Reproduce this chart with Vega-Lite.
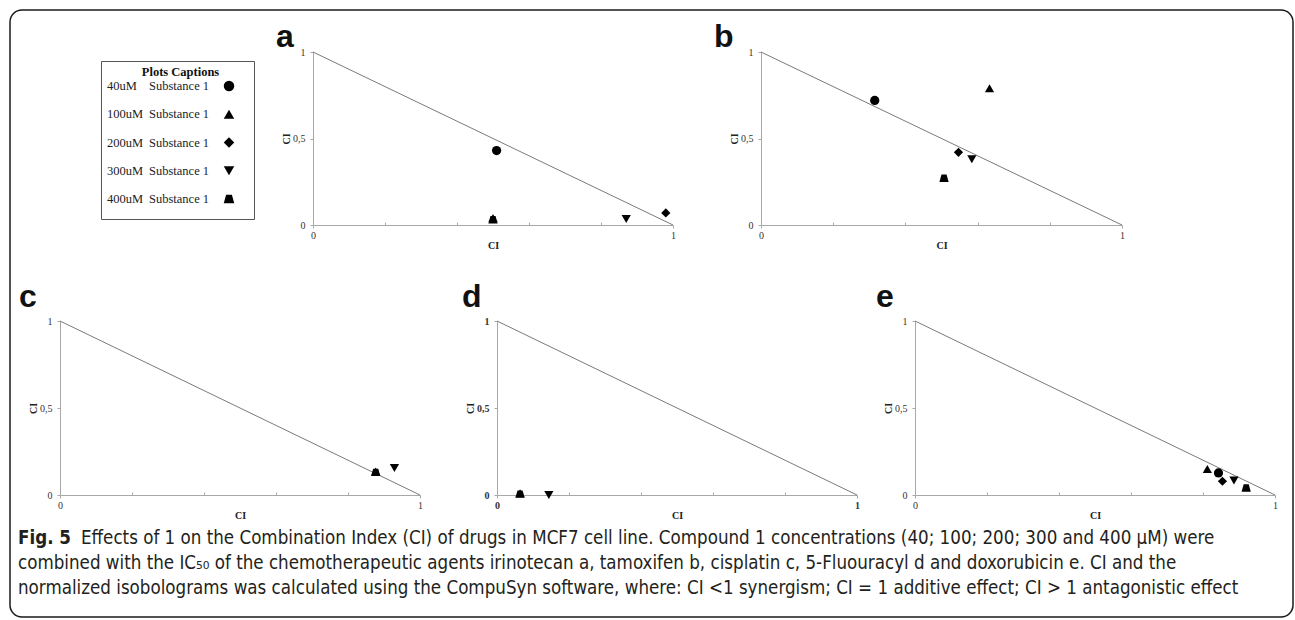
{
  "$schema": "https://vega.github.io/schema/vega-lite/v6.json",
  "background": "white",
  "padding": {"left": 9, "top": 9, "right": 2, "bottom": 2},
  "config": {
    "view": {"stroke": null},
    "axis": {"grid": false, "domainColor": "#a8a8a8", "tickColor": "#a8a8a8", "labelFont": "Liberation Serif", "labelFontSize": 10, "labelColor": "#333333", "titleFont": "Liberation Serif", "titleFontSize": 10, "titleFontWeight": "bold", "titleColor": "#222222"},
    "title": {"font": "Liberation Sans", "fontWeight": "bold", "fontSize": 32, "color": "#111111", "anchor": "start", "frame": "group", "dx": -37, "offset": -7, "baseline": "alphabetic"}
  },
  "datasets": {
    "diag": [{"cx": 0, "cy": 1}, {"cx": 1, "cy": 0}],
    "pts": [
      {"panel": "a", "conc": "40uM", "cx": 0.51, "cy": 0.43},
      {"panel": "a", "conc": "100uM", "cx": 0.50, "cy": 0.04},
      {"panel": "a", "conc": "400uM", "cx": 0.50, "cy": 0.03},
      {"panel": "a", "conc": "300uM", "cx": 0.87, "cy": 0.035},
      {"panel": "a", "conc": "200uM", "cx": 0.98, "cy": 0.07},
      {"panel": "b", "conc": "40uM", "cx": 0.315, "cy": 0.72},
      {"panel": "b", "conc": "100uM", "cx": 0.633, "cy": 0.79},
      {"panel": "b", "conc": "200uM", "cx": 0.547, "cy": 0.42},
      {"panel": "b", "conc": "300uM", "cx": 0.584, "cy": 0.38},
      {"panel": "b", "conc": "400uM", "cx": 0.507, "cy": 0.27},
      {"panel": "c", "conc": "100uM", "cx": 0.877, "cy": 0.135},
      {"panel": "c", "conc": "400uM", "cx": 0.877, "cy": 0.13},
      {"panel": "c", "conc": "300uM", "cx": 0.929, "cy": 0.155},
      {"panel": "d", "conc": "100uM", "cx": 0.064, "cy": 0.01},
      {"panel": "d", "conc": "400uM", "cx": 0.064, "cy": 0.005},
      {"panel": "d", "conc": "300uM", "cx": 0.144, "cy": 0.0},
      {"panel": "e", "conc": "100uM", "cx": 0.812, "cy": 0.15},
      {"panel": "e", "conc": "40uM", "cx": 0.843, "cy": 0.127},
      {"panel": "e", "conc": "200uM", "cx": 0.854, "cy": 0.079},
      {"panel": "e", "conc": "300uM", "cx": 0.886, "cy": 0.083},
      {"panel": "e", "conc": "400uM", "cx": 0.92, "cy": 0.04}
    ],
    "leg": [
      {"conc": "40uM", "sub": "Substance  1"},
      {"conc": "100uM", "sub": "Substance  1"},
      {"conc": "200uM", "sub": "Substance  1"},
      {"conc": "300uM", "sub": "Substance  1"},
      {"conc": "400uM", "sub": "Substance  1"}
    ],
    "capBold": [{"line": 1, "text": "Fig. 5"}],
    "capFirst": [{"line": 1, "text": "Effects of 1 on the Combination Index (CI) of drugs in MCF7 cell line. Compound 1 concentrations (40; 100; 200; 300 and 400 μM) were"}],
    "capRest": [
      {"line": 2, "text": "combined with the IC₅₀ of the chemotherapeutic agents irinotecan a, tamoxifen b, cisplatin c, 5-Fluouracyl d and doxorubicin e. CI and the"},
      {"line": 3, "text": "normalized isobolograms was calculated using the CompuSyn software, where: CI <1 synergism; CI = 1 additive effect; CI > 1 antagonistic effect"}
    ]
  },
  "bounds": "flush",
  "spacing": 0,
  "vconcat": [
    {
      "bounds": "flush",
      "spacing": 0,
      "vconcat": [
        {"data": {"values": [{"k": 1}]}, "mark": {"type": "point", "opacity": 0, "size": 0}, "width": 1283, "height": 607, "view": {"stroke": "#1a1a1a", "strokeWidth": 1.5, "cornerRadius": 12}}
      ]
    },
    {"data": {"values": [{"k": 1}]}, "mark": {"type": "point", "opacity": 0, "size": 0}, "width": 1, "height": 42},
    {
      "bounds": "flush",
      "spacing": 0,
      "hconcat": [
        {"data": {"values": [{"k": 1}]}, "mark": {"type": "point", "opacity": 0, "size": 0}, "width": 91, "height": 1},
        {
          "bounds": "flush",
          "spacing": 0,
          "vconcat": [
            {"data": {"values": [{"k": 1}]}, "mark": {"type": "point", "opacity": 0, "size": 0}, "width": 1, "height": 9},
            {
              "width": 153, "height": 158,
              "view": {"stroke": "#555555", "strokeWidth": 1},
              "title": {"text": "Plots Captions", "font": "Liberation Serif", "fontSize": 12.5, "fontWeight": "bold", "anchor": "middle", "dx": 3, "offset": -27.5, "baseline": "alphabetic", "color": "#111111"},
              "data": {"name": "leg"},
              "encoding": {
                "y": {"field": "conc", "type": "nominal", "sort": ["40uM", "100uM", "200uM", "300uM", "400uM"], "scale": {"type": "point", "range": [25, 138], "padding": 0}, "axis": null}
              },
              "layer": [
                {"mark": {"type": "text", "align": "left", "baseline": "middle", "font": "Liberation Serif", "fontSize": 12.5, "color": "#222222"}, "encoding": {"x": {"value": 6}, "text": {"field": "conc"}}},
                {"mark": {"type": "text", "align": "left", "baseline": "middle", "font": "Liberation Serif", "fontSize": 12.5, "color": "#222222"}, "encoding": {"x": {"value": 48}, "text": {"field": "sub"}}},
                {"mark": {"type": "point", "filled": true, "opacity": 1, "color": "#000000", "size": 110}, "encoding": {"x": {"value": 128}, "shape": {"field": "conc", "type": "nominal", "legend": null, "scale": {"domain": ["40uM", "100uM", "200uM", "300uM", "400uM"], "range": ["circle", "triangle-up", "diamond", "triangle-down", "M-1,0.8L1,0.8L0.55,-0.8L-0.55,-0.8Z"]}}}}
              ]
            }
          ]
        },
        {"data": {"values": [{"k": 1}]}, "mark": {"type": "point", "opacity": 0, "size": 0}, "width": 212, "height": 1},
        {
          "title": {"text": "a"},
          "width": 360, "height": 173,
          "layer": [
            {"data": {"name": "diag"}, "mark": {"type": "line", "color": "#7a7a7a", "strokeWidth": 1}, "encoding": {"x": {"field": "cx", "type": "quantitative", "scale": {"domain": [0, 1], "nice": false}, "axis": {"title": "CI", "values": [0, 0.1, 0.2, 0.3, 0.4, 0.5, 0.6, 0.7, 0.8, 0.9, 1], "labelExpr": "datum.value == 0 ? '0' : datum.value == 0.5 ? '0,5' : datum.value == 1 ? '1' : ''", "tickSize": {"condition": {"test": "datum.value == 0 || datum.value == 1", "value": 3}, "value": -3}, "labelPadding": 2, "titlePadding": 0, "labelFlush": false}}, "y": {"field": "cy", "type": "quantitative", "scale": {"domain": [0, 1], "nice": false}, "axis": {"title": "CI", "values": [0, 0.5, 1], "labelExpr": "datum.value == 0 ? '0' : datum.value == 0.5 ? '0,5' : '1'", "tickSize": 3, "labelPadding": 5, "titlePadding": 1}}}},
            {"data": {"name": "pts"}, "transform": [{"filter": "datum.panel == 'a'"}], "mark": {"type": "point", "filled": true, "opacity": 1, "color": "#000000", "size": 85}, "encoding": {"x": {"field": "cx", "type": "quantitative"}, "y": {"field": "cy", "type": "quantitative"}, "shape": {"field": "conc", "type": "nominal", "legend": null, "scale": {"domain": ["40uM", "100uM", "200uM", "300uM", "400uM"], "range": ["circle", "triangle-up", "diamond", "triangle-down", "M-1,0.8L1,0.8L0.55,-0.8L-0.55,-0.8Z"]}}}}
          ]
        },
        {"data": {"values": [{"k": 1}]}, "mark": {"type": "point", "opacity": 0, "size": 0}, "width": 88, "height": 1},
        {
          "title": {"text": "b", "dx": -47},
          "width": 361, "height": 173,
          "layer": [
            {"data": {"name": "diag"}, "mark": {"type": "line", "color": "#7a7a7a", "strokeWidth": 1}, "encoding": {"x": {"field": "cx", "type": "quantitative", "scale": {"domain": [0, 1], "nice": false}, "axis": {"title": "CI", "values": [0, 0.1, 0.2, 0.3, 0.4, 0.5, 0.6, 0.7, 0.8, 0.9, 1], "labelExpr": "datum.value == 0 ? '0' : datum.value == 0.5 ? '0,5' : datum.value == 1 ? '1' : ''", "tickSize": {"condition": {"test": "datum.value == 0 || datum.value == 1", "value": 3}, "value": -3}, "labelPadding": 2, "titlePadding": 0, "labelFlush": false}}, "y": {"field": "cy", "type": "quantitative", "scale": {"domain": [0, 1], "nice": false}, "axis": {"title": "CI", "values": [0, 0.5, 1], "labelExpr": "datum.value == 0 ? '0' : datum.value == 0.5 ? '0,5' : '1'", "tickSize": 3, "labelPadding": 5, "titlePadding": 1}}}},
            {"data": {"name": "pts"}, "transform": [{"filter": "datum.panel == 'b'"}], "mark": {"type": "point", "filled": true, "opacity": 1, "color": "#000000", "size": 85}, "encoding": {"x": {"field": "cx", "type": "quantitative"}, "y": {"field": "cy", "type": "quantitative"}, "shape": {"field": "conc", "type": "nominal", "legend": null, "scale": {"domain": ["40uM", "100uM", "200uM", "300uM", "400uM"], "range": ["circle", "triangle-up", "diamond", "triangle-down", "M-1,0.8L1,0.8L0.55,-0.8L-0.55,-0.8Z"]}}}}
          ]
        }
      ]
    },
    {"data": {"values": [{"k": 1}]}, "mark": {"type": "point", "opacity": 0, "size": 0}, "width": 1, "height": 269},
    {
      "bounds": "flush",
      "spacing": 0,
      "hconcat": [
        {"data": {"values": [{"k": 1}]}, "mark": {"type": "point", "opacity": 0, "size": 0}, "width": 50, "height": 1},
        {
          "title": {"text": "c", "dx": -41, "offset": 2},
          "width": 360, "height": 174,
          "layer": [
            {"data": {"name": "diag"}, "mark": {"type": "line", "color": "#7a7a7a", "strokeWidth": 1}, "encoding": {"x": {"field": "cx", "type": "quantitative", "scale": {"domain": [0, 1], "nice": false}, "axis": {"title": "CI", "values": [0, 0.1, 0.2, 0.3, 0.4, 0.5, 0.6, 0.7, 0.8, 0.9, 1], "labelExpr": "datum.value == 0 ? '0' : datum.value == 0.5 ? '0,5' : datum.value == 1 ? '1' : ''", "tickSize": {"condition": {"test": "datum.value == 0 || datum.value == 1", "value": 3}, "value": -3}, "labelPadding": 2, "titlePadding": 0, "labelFlush": false}}, "y": {"field": "cy", "type": "quantitative", "scale": {"domain": [0, 1], "nice": false}, "axis": {"title": "CI", "values": [0, 0.5, 1], "labelExpr": "datum.value == 0 ? '0' : datum.value == 0.5 ? '0,5' : '1'", "tickSize": 3, "labelPadding": 5, "titlePadding": 1}}}},
            {"data": {"name": "pts"}, "transform": [{"filter": "datum.panel == 'c'"}], "mark": {"type": "point", "filled": true, "opacity": 1, "color": "#000000", "size": 85}, "encoding": {"x": {"field": "cx", "type": "quantitative"}, "y": {"field": "cy", "type": "quantitative"}, "shape": {"field": "conc", "type": "nominal", "legend": null, "scale": {"domain": ["40uM", "100uM", "200uM", "300uM", "400uM"], "range": ["circle", "triangle-up", "diamond", "triangle-down", "M-1,0.8L1,0.8L0.55,-0.8L-0.55,-0.8Z"]}}}}
          ]
        },
        {"data": {"values": [{"k": 1}]}, "mark": {"type": "point", "opacity": 0, "size": 0}, "width": 77, "height": 1},
        {
          "title": {"text": "d", "dx": -35, "offset": 2},
          "width": 360, "height": 174,
          "layer": [
            {"data": {"name": "diag"}, "mark": {"type": "line", "color": "#7a7a7a", "strokeWidth": 1}, "encoding": {"x": {"field": "cx", "type": "quantitative", "scale": {"domain": [0, 1], "nice": false}, "axis": {"title": "CI", "values": [0, 0.1, 0.2, 0.3, 0.4, 0.5, 0.6, 0.7, 0.8, 0.9, 1], "labelExpr": "datum.value == 0 ? '0' : datum.value == 0.5 ? '0,5' : datum.value == 1 ? '1' : ''", "tickSize": {"condition": {"test": "datum.value == 0 || datum.value == 1", "value": 3}, "value": -3}, "labelPadding": 2, "titlePadding": 0, "labelFlush": false, "labelFontWeight": "bold"}}, "y": {"field": "cy", "type": "quantitative", "scale": {"domain": [0, 1], "nice": false}, "axis": {"title": "CI", "values": [0, 0.5, 1], "labelExpr": "datum.value == 0 ? '0' : datum.value == 0.5 ? '0,5' : '1'", "tickSize": 3, "labelPadding": 5, "titlePadding": 1, "labelFontWeight": "bold"}}}},
            {"data": {"name": "pts"}, "transform": [{"filter": "datum.panel == 'd'"}], "mark": {"type": "point", "filled": true, "opacity": 1, "color": "#000000", "size": 85}, "encoding": {"x": {"field": "cx", "type": "quantitative"}, "y": {"field": "cy", "type": "quantitative"}, "shape": {"field": "conc", "type": "nominal", "legend": null, "scale": {"domain": ["40uM", "100uM", "200uM", "300uM", "400uM"], "range": ["circle", "triangle-up", "diamond", "triangle-down", "M-1,0.8L1,0.8L0.55,-0.8L-0.55,-0.8Z"]}}}}
          ]
        },
        {"data": {"values": [{"k": 1}]}, "mark": {"type": "point", "opacity": 0, "size": 0}, "width": 58, "height": 1},
        {
          "title": {"text": "e", "dx": -39, "offset": 2},
          "width": 360, "height": 174,
          "layer": [
            {"data": {"name": "diag"}, "mark": {"type": "line", "color": "#7a7a7a", "strokeWidth": 1}, "encoding": {"x": {"field": "cx", "type": "quantitative", "scale": {"domain": [0, 1], "nice": false}, "axis": {"title": "CI", "values": [0, 0.1, 0.2, 0.3, 0.4, 0.5, 0.6, 0.7, 0.8, 0.9, 1], "labelExpr": "datum.value == 0 ? '0' : datum.value == 0.5 ? '0,5' : datum.value == 1 ? '1' : ''", "tickSize": {"condition": {"test": "datum.value == 0 || datum.value == 1", "value": 3}, "value": -3}, "labelPadding": 2, "titlePadding": 0, "labelFlush": false}}, "y": {"field": "cy", "type": "quantitative", "scale": {"domain": [0, 1], "nice": false}, "axis": {"title": "CI", "values": [0, 0.5, 1], "labelExpr": "datum.value == 0 ? '0' : datum.value == 0.5 ? '0,5' : '1'", "tickSize": 3, "labelPadding": 5, "titlePadding": 1}}}},
            {"data": {"name": "pts"}, "transform": [{"filter": "datum.panel == 'e'"}], "mark": {"type": "point", "filled": true, "opacity": 1, "color": "#000000", "size": 85}, "encoding": {"x": {"field": "cx", "type": "quantitative"}, "y": {"field": "cy", "type": "quantitative"}, "shape": {"field": "conc", "type": "nominal", "legend": null, "scale": {"domain": ["40uM", "100uM", "200uM", "300uM", "400uM"], "range": ["circle", "triangle-up", "diamond", "triangle-down", "M-1,0.8L1,0.8L0.55,-0.8L-0.55,-0.8Z"]}}}}
          ]
        }
      ]
    },
    {"data": {"values": [{"k": 1}]}, "mark": {"type": "point", "opacity": 0, "size": 0}, "width": 1, "height": 174},
    {
      "width": 1270, "height": 105,
      "encoding": {"y": {"field": "line", "type": "ordinal", "scale": {"type": "point", "domain": [1, 2, 3], "range": [43, 93], "padding": 0}, "axis": null}},
      "layer": [
        {"data": {"name": "capBold"}, "mark": {"type": "text", "align": "left", "baseline": "middle", "font": "DejaVu Sans Condensed", "fontSize": 18.6, "fontWeight": "bold", "color": "#231f20"}, "encoding": {"x": {"value": 8}, "text": {"field": "text"}}},
        {"data": {"name": "capFirst"}, "mark": {"type": "text", "align": "left", "baseline": "middle", "font": "DejaVu Sans Condensed", "fontSize": 18.6, "color": "#231f20", "dx": 63}, "encoding": {"x": {"value": 8}, "text": {"field": "text"}}},
        {"data": {"name": "capRest"}, "mark": {"type": "text", "align": "left", "baseline": "middle", "font": "DejaVu Sans Condensed", "fontSize": 18.6, "color": "#231f20"}, "encoding": {"x": {"value": 8}, "text": {"field": "text"}}}
      ]
    }
  ]
}
